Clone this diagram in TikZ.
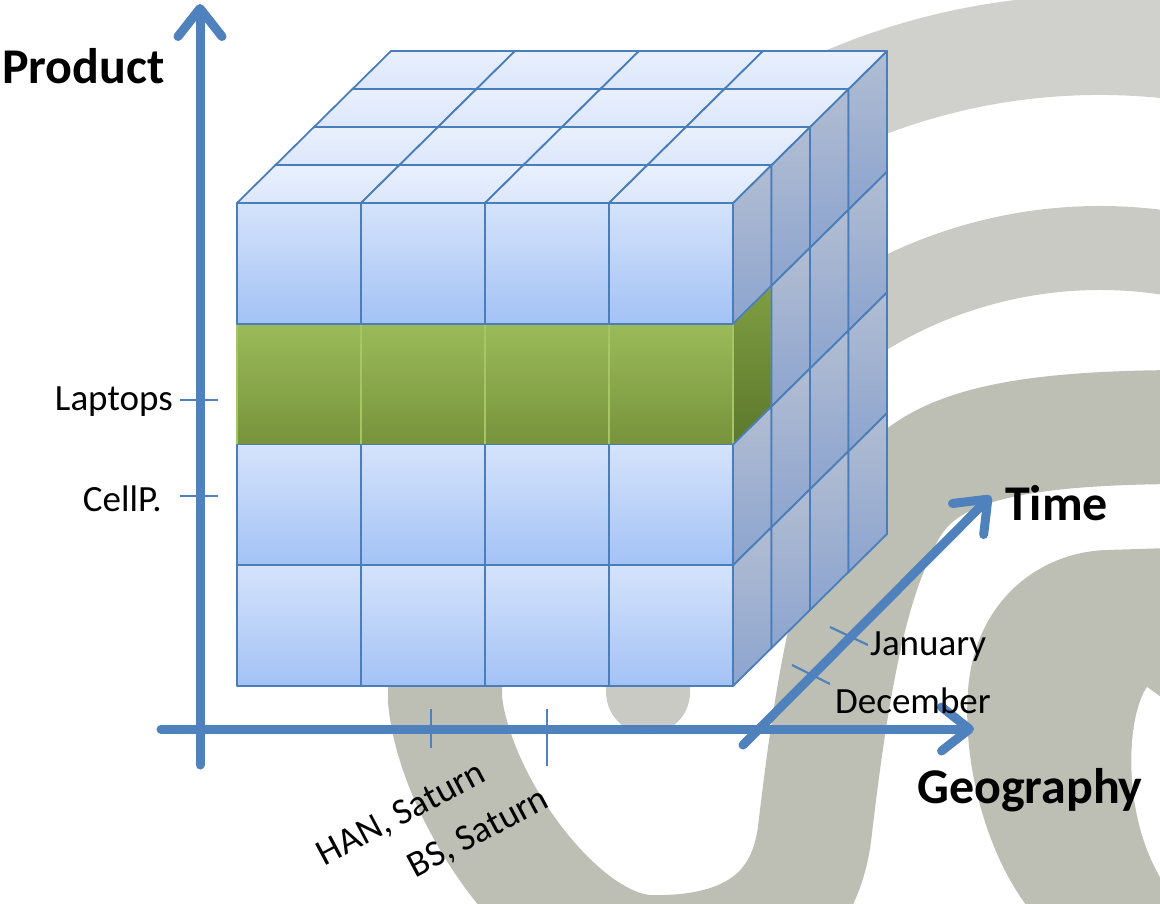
\documentclass[tikz,border=0pt]{standalone}
\usepackage{fontspec}
\setmainfont{Carlito}
\usetikzlibrary{arrows.meta}
\definecolor{axisblue}{HTML}{4F81BD}
\definecolor{cubeline}{HTML}{4A7EBB}
\definecolor{frontTop}{HTML}{D5E3FB}
\definecolor{frontBot}{HTML}{A3C2F5}
\definecolor{topTop}{HTML}{E9F0FD}
\definecolor{topBot}{HTML}{DCE7FB}
\definecolor{sideTop}{HTML}{B2BDD2}
\definecolor{sideBot}{HTML}{8CA4CF}
\definecolor{greenTop}{HTML}{9BBB59}
\definecolor{greenBot}{HTML}{76933C}
\definecolor{gsideTop}{HTML}{7F9E42}
\definecolor{gsideBot}{HTML}{5C782C}
\definecolor{greenline}{HTML}{A6C565}
\definecolor{bgTop}{HTML}{D0D0CD}
\definecolor{bgMid}{HTML}{C9CAC4}
\definecolor{bgLow}{HTML}{BDBFB5}
\tikzset{
  axisarrow/.style={draw=axisblue, line width=9pt, line cap=round,
    -{Straight Barb[length=28pt,width=44pt,round]}},
  tickline/.style={draw=axisblue, line width=2.2pt},
  cellframe/.style={draw=cubeline, line width=1.8pt, line join=round},
  frontcell/.style={cellframe, top color=frontTop, bottom color=frontBot},
  topcell/.style={cellframe, top color=topTop, bottom color=topBot},
  sidecell/.style={cellframe, top color=sideTop, bottom color=sideBot},
  greencell/.style={draw=greenline, line width=1.5pt, top color=greenTop, bottom color=greenBot},
  greenside/.style={draw=greenline, line width=1.5pt, top color=gsideTop, bottom color=gsideBot},
  axislabel/.style={font=\fontsize{50}{56}\selectfont\bfseries, inner sep=0pt},
  ticklabel/.style={font=\fontsize{37}{42}\selectfont, inner sep=0pt},
}
\begin{document}
\begin{tikzpicture}[x=1pt,y=-1pt]
\useasboundingbox[fill=white] (0,0) rectangle (1160,904);
% ---------------- background swirl ----------------
\begin{scope}
\clip (0,0) rectangle (1160,904);
\draw[draw=bgTop, line width=100pt]
  ([shift={(1100,700)}]-83:655) arc[start angle=-83, end angle=-168, radius=655];
\draw[draw=bgLow, line width=114pt]
  ([shift={(1100,700)}]-165:655) arc[start angle=-165, end angle=-180, radius=655]
  .. controls (455,800) and (560,950) .. (650,952)
  .. controls (740,954) and (805,920) .. (815,830)
  .. controls (828,720) and (845,600) .. (880,530)
  .. controls (910,455) and (980,427) .. (1190,427);
\draw[draw=bgMid, line width=84pt, line cap=round]
  ([shift={(1100,700)}]-80:452) arc[start angle=-80, end angle=-179, radius=452];
\fill[bgLow] (1170,548) -- (1107,550) .. controls (1040,552) and (975,600) .. (968,690)
  .. controls (962,770) and (990,860) .. (1030,910) -- (1170,910) -- cycle;
\fill[white] (1147,687) .. controls (1125,720) and (1122,820) .. (1165,885) -- (1165,700) -- cycle;
\end{scope}
% ---------------- cube ----------------
% green slice
\foreach \i in {0,...,3}{
  \path[greencell] ({237+\i*124},323.75) rectangle ({237+(\i+1)*124},444.5);
}
\path[greenside] (733,323.75) -- (771.5,285.75) -- (771.5,406.5) -- (733,444.5) -- cycle;
% right face
\foreach \k in {0,...,3}{
  \foreach \j in {0,...,3}{
    \pgfmathtruncatemacro\cellflag{(\k==0)*(\j==1)}
    \ifnum\cellflag=0
    \path[sidecell] ({733+\k*38.5},{203+\j*120.75-\k*38})
      -- ({733+(\k+1)*38.5},{203+\j*120.75-(\k+1)*38})
      -- ({733+(\k+1)*38.5},{203+(\j+1)*120.75-(\k+1)*38})
      -- ({733+\k*38.5},{203+(\j+1)*120.75-\k*38}) -- cycle;
    \fi
  }
}
% top face
\foreach \k in {0,...,3}{
  \foreach \i in {0,...,3}{
    \path[topcell] ({237+\i*124+\k*38.5},{203-\k*38})
      -- ({237+(\i+1)*124+\k*38.5},{203-\k*38})
      -- ({237+(\i+1)*124+(\k+1)*38.5},{203-(\k+1)*38})
      -- ({237+\i*124+(\k+1)*38.5},{203-(\k+1)*38}) -- cycle;
  }
}
% front face
\foreach \i in {0,...,3}{
  \foreach \j in {0,2,3}{
    \path[frontcell] ({237+\i*124},{203+\j*120.75}) rectangle ({237+(\i+1)*124},{203+(\j+1)*120.75});
  }
}
% ---------------- axes ----------------
\coordinate (pbot) at (200,765);
\coordinate (ptop) at (200,4);
\coordinate (gleft) at (161,729);
\coordinate (gright) at (974,729);
\coordinate (tstart) at (743,745);
\coordinate (tend) at (991,496);
\draw[axisarrow] (pbot) -- (ptop);
\draw[axisarrow] (gleft) -- (gright);
\draw[axisarrow] (tstart) -- (tend);
% ticks
\coordinate (lapA) at (180,400); \coordinate (lapB) at (218,400);
\coordinate (celA) at (180,496); \coordinate (celB) at (218,496);
\coordinate (hanA) at (431,709); \coordinate (hanB) at (431,748);
\coordinate (bsA) at (547,709); \coordinate (bsB) at (547,766);
\coordinate (janA) at (830,627); \coordinate (janB) at (868,645);
\coordinate (decA) at (792,665); \coordinate (decB) at (830,684);
\draw[tickline] (lapA) -- (lapB);
\draw[tickline] (celA) -- (celB);
\draw[tickline] (hanA) -- (hanB);
\draw[tickline] (bsA) -- (bsB);
\draw[tickline] (janA) -- (janB);
\draw[tickline] (decA) -- (decB);
% ---------------- labels ----------------
\node[axislabel, anchor=base west] (product) at (2,84) {Product};
\node[axislabel, anchor=base west] (time) at (1005,520) {Time};
\node[axislabel, anchor=base west] (geo) at (917,803) {Geography};
\node[ticklabel, anchor=base east] (laptops) at (173,410) {Laptops};
\node[ticklabel, anchor=base east] (cellp) at (162,511) {CellP.};
\node[ticklabel, anchor=base west] (jan) at (870,655) {January};
\node[ticklabel, anchor=base west] (dec) at (835,713) {December};
\node[ticklabel, anchor=base east, rotate=28] (han) at (488,780) {HAN, Saturn};
\node[ticklabel, anchor=base east, rotate=28] (bs) at (551,806) {BS, Saturn};
\end{tikzpicture}
\end{document}
